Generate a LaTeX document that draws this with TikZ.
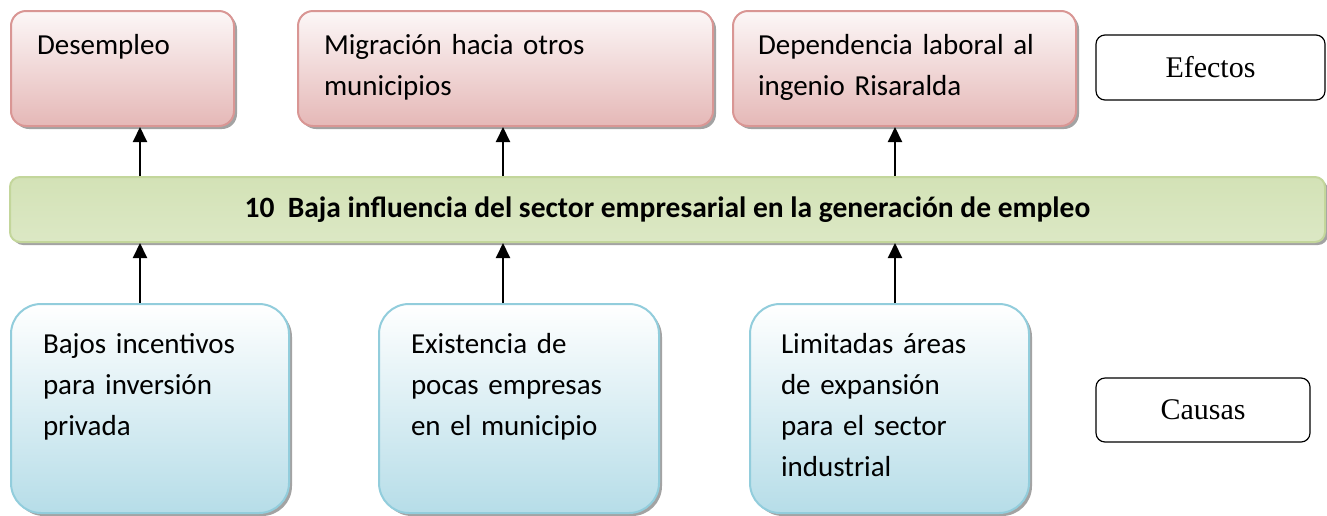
\documentclass[tikz,border=0pt]{standalone}
\usepackage{fontspec}
\setmainfont{Carlito}
\newfontfamily\tagfont{Liberation Serif}
\usepackage{xcolor}
\usepackage{tikz}
\usetikzlibrary{arrows.meta,shadows}

\definecolor{effline}{HTML}{D99694}
\definecolor{effbottom}{HTML}{E5B8B7}
\definecolor{efftop}{HTML}{FCF7F7}
\definecolor{barline}{HTML}{C3D69B}
\definecolor{bartop}{HTML}{D3E2B6}
\definecolor{barmid}{HTML}{EBF1DE}
\definecolor{causeline}{HTML}{92CDDC}
\definecolor{causebottom}{HTML}{B6DDE8}

\begin{document}
\begin{tikzpicture}[x=1pt, y=-1pt, >={Triangle[width=14pt,length=15pt]},
  effbox/.style={draw=effline, line width=2pt, rounded corners=15pt,
    top color=efftop, bottom color=effbottom,
    drop shadow={shadow xshift=3pt, shadow yshift=-3pt, fill=black!45, opacity=.8},
    anchor=north west, align=left, inner ysep=20pt,
    text height=23pt, text depth=52pt, font=\fontsize{29}{41}\selectfont},
  causebox/.style={draw=causeline, line width=2pt, rounded corners=30pt,
    top color=white, bottom color=causebottom,
    drop shadow={shadow xshift=3pt, shadow yshift=-3pt, fill=black!45, opacity=.8},
    anchor=north west, align=left, inner ysep=20pt,
    text height=29pt, text depth=140pt, font=\fontsize{29}{41}\selectfont},
  tagbox/.style={draw, line width=1.2pt, rounded corners=9pt,
    font=\tagfont\fontsize{30}{36}\selectfont},
  arrowline/.style={->, line width=2pt}]

\useasboundingbox (0,0) rectangle (1327,515);

% efectos
\node[effbox, inner xsep=26pt, text width=171pt] (desempleo) at (10,10) {Desempleo};
\node[effbox, inner xsep=26pt, text width=363pt] (migracion) at (297,10) {Migración hacia otros\\municipios};
\node[effbox, inner xsep=25pt, text width=293pt] (dependencia) at (732,10) {Dependencia laboral al\\ingenio Risaralda};

% problema central
\node[draw=barline, line width=2pt, rounded corners=10pt,
  top color=bartop, middle color=barmid, bottom color=bartop!80!white,
  drop shadow={shadow xshift=3pt, shadow yshift=-3pt, fill=black!45, opacity=.8},
  minimum width=1315pt, minimum height=65pt, inner sep=0pt,
  font=\bfseries\fontsize{29.5}{34}\selectfont] (problema) at (667.5,209.5)
  {10\ \ Baja influencia del sector empresarial en la generación de empleo};

% causas
\node[causebox, inner xsep=32pt, text width=214pt] (incentivos) at (10,303) {Bajos incentivos\\para inversión\\privada};
\node[causebox, inner xsep=32pt, text width=216pt] (empresas) at (378,303) {Existencia de\\pocas empresas\\en el municipio};
\node[causebox, inner xsep=31pt, text width=217pt] (areas) at (749,303) {Limitadas áreas\\de expansión\\para el sector\\industrial};

% etiquetas
\node[tagbox, minimum width=229pt, minimum height=65pt] (efectos) at (1210.5,67.5) {Efectos};
\node[tagbox, minimum width=214pt, minimum height=64pt] (causas) at (1203,410) {Causas};

% flechas
\coordinate (c1) at (140,0);
\coordinate (c2) at (503,0);
\coordinate (c3) at (895,0);

\draw[arrowline] (problema.north -| c1) -- (desempleo.south -| c1);
\draw[arrowline] (problema.north -| c2) -- (migracion.south -| c2);
\draw[arrowline] (problema.north -| c3) -- (dependencia.south -| c3);
\draw[arrowline] (incentivos.north -| c1) -- (problema.south -| c1);
\draw[arrowline] (empresas.north -| c2) -- (problema.south -| c2);
\draw[arrowline] (areas.north -| c3) -- (problema.south -| c3);

\end{tikzpicture}
\end{document}
